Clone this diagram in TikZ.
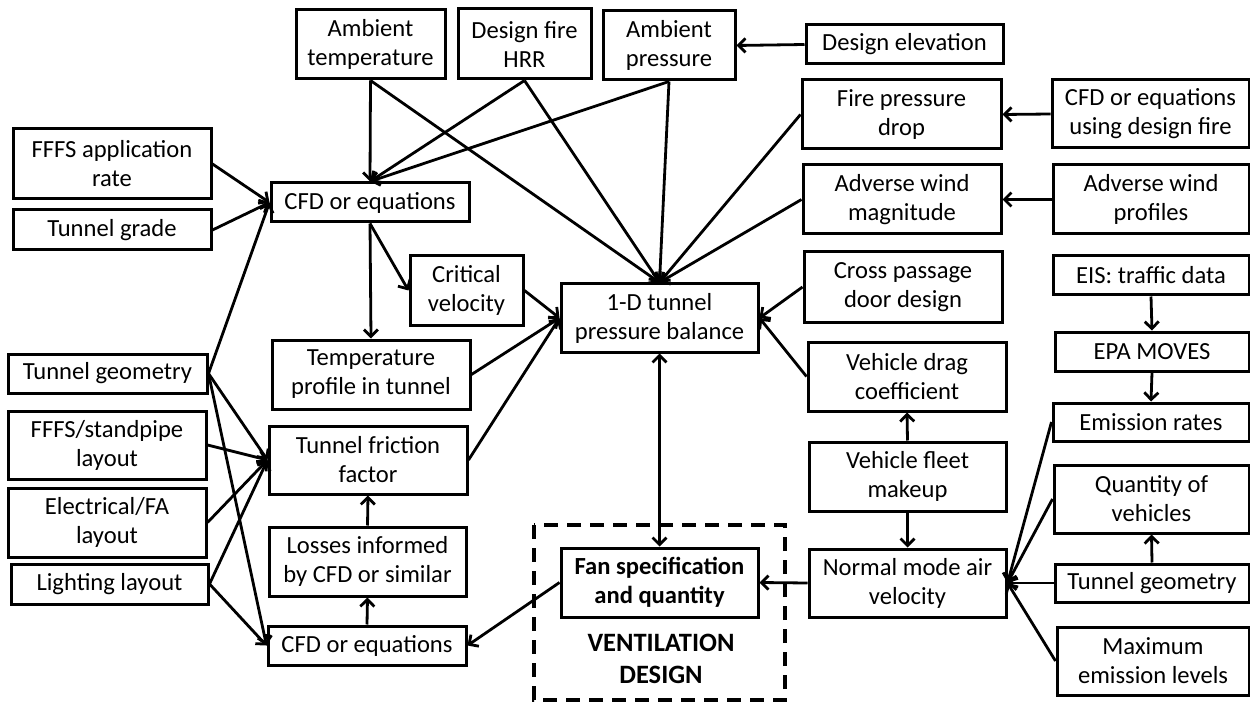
\documentclass[tikz,border=0pt]{standalone}
\usepackage{fontspec}
\setmainfont{Carlito}
\usetikzlibrary{arrows.meta,calc}
\begin{document}
\begin{tikzpicture}[x=1pt,y=-1pt,
  bx/.style={draw, line width=3pt, align=center, inner sep=0pt,
    font=\fontsize{24.6}{29}\selectfont},
  con/.style={line width=2.8pt, -{Straight Barb[length=7pt,width=14pt]}},
  dcon/.style={line width=2.8pt, {Straight Barb[length=7pt,width=14pt]}-{Straight Barb[length=7pt,width=14pt]}}]
\useasboundingbox (0,0) rectangle (1250,703);
\fill[white] (0,0) rectangle (1250,703);
% top row
\node[bx, minimum width=149, minimum height=69] (at) at (370.5,44.5) {Ambient\\temperature};
\node[bx, minimum width=133, minimum height=70] (df) at (524.5,44) {Design fire\\HRR};
\node[bx, minimum width=132, minimum height=69] (ap) at (669,45.5) {Ambient\\pressure};
\node[bx, minimum width=197, minimum height=39] (de) at (904.5,44.5) {Design elevation};
% right columns
\node[bx, minimum width=199, minimum height=69] (fpd) at (901.5,114.5) {Fire pressure\\drop};
\node[bx, minimum width=197, minimum height=68] (cff) at (1150.5,114) {CFD or equations\\using design fire};
\node[bx, minimum width=198, minimum height=69] (awm) at (902,199.5) {Adverse wind\\magnitude};
\node[bx, minimum width=196, minimum height=69] (awp) at (1151,199.5) {Adverse wind\\profiles};
\node[bx, minimum width=198, minimum height=70] (cpd) at (903,287) {Cross passage\\door design};
\node[bx, minimum width=196, minimum height=39] (eis) at (1151,275.5) {EIS: traffic data};
\node[bx, minimum width=194, minimum height=39] (epa) at (1152,351.5) {EPA MOVES};
\node[bx, minimum width=198, minimum height=69] (vdc) at (907,376.5) {Vehicle drag\\coefficient};
\node[bx, minimum width=196, minimum height=38] (er) at (1151,422) {Emission rates};
\node[bx, minimum width=195, minimum height=68] (qv) at (1151.5,499) {Quantity of\\vehicles};
\node[bx, minimum width=197, minimum height=69] (vfm) at (907.5,476.5) {Vehicle fleet\\makeup};
\node[bx, minimum width=194, minimum height=38] (tgr) at (1152,583) {Tunnel geometry};
\node[bx, minimum width=197, minimum height=68] (nm) at (907.5,583) {Normal mode air\\velocity};
\node[bx, minimum width=192, minimum height=68] (mel) at (1153,661) {Maximum\\emission levels};
% center
\node[bx, minimum width=197, minimum height=68] (od) at (659.5,318) {1-D tunnel\\pressure balance};
\node[bx, minimum width=197, minimum height=69, font=\fontsize{24.6}{29}\selectfont\bfseries] (fan) at (659.5,582.5) {Fan specification\\and quantity};
\draw[line width=3.2pt, dash pattern=on 14pt off 9pt] (534,525) rectangle (785,700);
\node[align=center, font=\fontsize{26.5}{32}\selectfont\bfseries] (vd) at (661,659) {VENTILATION\\DESIGN};
\node[bx, minimum width=113, minimum height=69] (cv) at (466.5,290.5) {Critical\\velocity};
% middle-left column
\node[bx, minimum width=198, minimum height=39] (cfa) at (370,202.5) {CFD or equations};
\node[bx, minimum width=198, minimum height=69] (tp) at (371,374.5) {Temperature\\profile in tunnel};
\node[bx, minimum width=198, minimum height=68] (tff) at (368,460) {Tunnel friction\\factor};
\node[bx, minimum width=197, minimum height=69] (loss) at (367.5,561.5) {Losses informed\\by CFD or similar};
\node[bx, minimum width=198, minimum height=39] (cfb) at (367,645.5) {CFD or equations};
% left column
\node[bx, minimum width=198, minimum height=70] (ffa) at (112,164) {FFFS application\\rate};
\node[bx, minimum width=198, minimum height=40] (tgd) at (112,230) {Tunnel grade};
\node[bx, minimum width=199, minimum height=39] (tgl) at (107.5,373.5) {Tunnel geometry};
\node[bx, minimum width=198, minimum height=68] (fsp) at (107,445) {FFFS/standpipe\\layout};
\node[bx, minimum width=198, minimum height=69] (efa) at (107,522.5) {Electrical/FA\\layout};
\node[bx, minimum width=197, minimum height=40] (lig) at (109.5,584) {Lighting layout};
% connectors: top
\draw[con] (at.south) -- (cfa.north);
\draw[con] (at.south) -- (od.north);
\draw[con] (df.south) -- (cfa.north);
\draw[con] (df.south) -- (od.north);
\draw[con] (ap.south) -- (cfa.north);
\draw[con] (ap.south) -- (od.north);
\draw[con] (de.west) -- (ap.east);
\draw[con] (fpd.west) -- (od.north);
\draw[con] (awm.west) -- (od.north);
\draw[con] (cff.west) -- (fpd.east);
\draw[con] (awp.west) -- (awm.east);
\draw[con] (cpd.west) -- (od.east);
\draw[con] (vdc.west) -- (od.east);
% center-left
\draw[con] (cfa.south) -- (cv.west);
\draw[con] (cfa.south) -- (tp.north);
\draw[con] (cv.east) -- (od.west);
\draw[con] (tp.east) -- (od.west);
\draw[con] (tff.east) -- (od.west);
\draw[dcon] (od.south) -- (fan.north);
\draw[con] (fan.west) -- (cfb.east);
\draw[con] (nm.west) -- (fan.east);
\draw[con] (cfb.north) -- (loss.south);
\draw[con] (loss.north) -- (tff.south);
% right
\draw[con] (vfm.north) -- (vdc.south);
\draw[con] (vfm.south) -- (nm.north);
\draw[con] (eis.south) -- (epa.north);
\draw[con] (epa.south) -- (er.north);
\draw[con] (tgr.north) -- (qv.south);
\draw[con] (er.west) -- (nm.east);
\draw[con] (qv.west) -- (nm.east);
\draw[con] (tgr.west) -- (nm.east);
\draw[con] (mel.west) -- (nm.east);
% left
\draw[con] (ffa.east) -- (cfa.west);
\draw[con] (tgd.east) -- (cfa.west);
\draw[con] (tgl.east) -- (cfa.west);
\draw[con] (tgl.east) -- (tff.west);
\draw[con] (tgl.east) -- (cfb.west);
\draw[con] (fsp.east) -- (tff.west);
\draw[con] (efa.east) -- (tff.west);
\draw[con] (lig.east) -- (tff.west);
\draw[con] (lig.east) -- (cfb.west);
\end{tikzpicture}
\end{document}
